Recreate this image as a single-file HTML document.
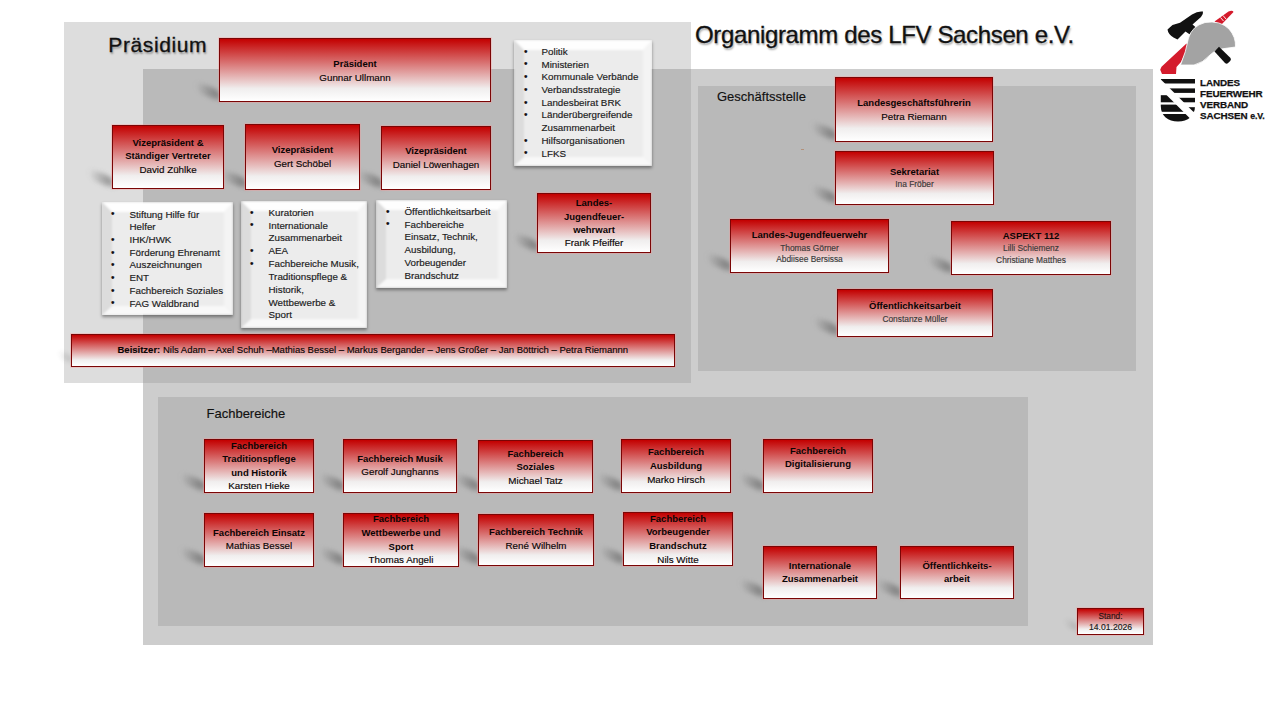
<!DOCTYPE html>
<html><head><meta charset="utf-8"><style>
*{margin:0;padding:0;box-sizing:border-box}
html,body{width:1280px;height:720px;overflow:hidden;background:#fff}
body{position:relative;font-family:"Liberation Sans",sans-serif;color:#1a1010}
.a{position:absolute}
.rb{position:absolute;border:1px solid #7a0505;background:linear-gradient(to bottom,#c30000 0%,#f0eeee 80%,#ffffff 100%);box-shadow:0 0 0 0.6px rgba(255,150,150,.55)}
.sh{position:absolute;background:linear-gradient(to right,rgba(50,50,50,0),rgba(50,50,50,.36) 70%,rgba(50,50,50,.42));filter:blur(2.8px);border-radius:40%;transform:skewY(20deg)}
.L{position:absolute;white-space:nowrap;text-align:center;line-height:1;color:#0a0505;-webkit-text-stroke:0.15px currentColor}
.B{-webkit-text-stroke:0}
.B{font-weight:700}
.g{color:#3a3a3a}
.wbs{position:absolute;box-shadow:0 2px 3px rgba(0,0,0,.4)}
.wb{position:absolute;background:#ececec;border-style:solid;border-width:10px 9px 9px 10px;border-color:#fefefe #f4f4f4 #f8f8f8 #dcdcdc;filter:blur(1.2px);clip-path:inset(0)}
.ttl{position:absolute;white-space:nowrap;text-shadow:1px 1.5px 2px rgba(0,0,0,.35);color:#111;line-height:1;-webkit-text-stroke:0.3px #111}
</style></head><body>
<div class="a" style="left:64px;top:22px;width:627px;height:361px;background:#dddddd"></div>
<div class="a" style="left:143px;top:69px;width:1010px;height:576px;background:#cdcdcd"></div>
<div class="a" style="left:143px;top:69px;width:548px;height:314px;background:#bababa"></div>
<div class="a" style="left:698px;top:86px;width:438px;height:285px;background:#b9b9b9"></div>
<div class="a" style="left:158px;top:397px;width:870px;height:229px;background:#b9b9b9"></div>
<div class="ttl" style="left:108.3px;top:34px;font-size:21px;letter-spacing:0.6px">Präsidium</div>
<div class="ttl" style="left:695px;top:22.5px;font-size:24px;letter-spacing:-0.35px">Organigramm des LFV Sachsen e.V.</div>
<div class="L" style="left:717.0px;top:89.75px;font-size:13px;text-align:left;color:#111;">Geschäftsstelle</div>
<div class="a" style="left:801px;top:148.5px;width:3px;height:1px;background:#b08060;opacity:.7"></div>
<div class="L" style="left:206.5px;top:406.70px;font-size:13px;text-align:left;color:#111;">Fachbereiche</div>
<div class="sh" style="left:196px;top:86px;width:25px;height:11px"></div>
<div class="sh" style="left:89px;top:173px;width:25px;height:11px"></div>
<div class="sh" style="left:222px;top:174px;width:25px;height:11px"></div>
<div class="sh" style="left:358px;top:174px;width:25px;height:11px"></div>
<div class="sh" style="left:514px;top:237px;width:25px;height:11px"></div>
<div class="sh" style="left:812px;top:126px;width:25px;height:11px"></div>
<div class="sh" style="left:812px;top:189px;width:25px;height:11px"></div>
<div class="sh" style="left:707px;top:257px;width:25px;height:11px"></div>
<div class="sh" style="left:928px;top:259px;width:25px;height:11px"></div>
<div class="sh" style="left:814px;top:321px;width:25px;height:11px"></div>
<div class="sh" style="left:181px;top:477px;width:25px;height:11px"></div>
<div class="sh" style="left:320px;top:477px;width:25px;height:11px"></div>
<div class="sh" style="left:455px;top:477px;width:25px;height:11px"></div>
<div class="sh" style="left:598px;top:477px;width:25px;height:11px"></div>
<div class="sh" style="left:740px;top:477px;width:25px;height:11px"></div>
<div class="sh" style="left:181px;top:551px;width:25px;height:11px"></div>
<div class="sh" style="left:320px;top:551px;width:25px;height:11px"></div>
<div class="sh" style="left:455px;top:550px;width:25px;height:11px"></div>
<div class="sh" style="left:600px;top:550px;width:25px;height:11px"></div>
<div class="sh" style="left:740px;top:583px;width:25px;height:11px"></div>
<div class="sh" style="left:877px;top:583px;width:25px;height:11px"></div>
<div class="sh" style="left:1065px;top:621px;width:13px;height:8px;opacity:.45"></div>
<div class="sh" style="left:59px;top:353px;width:13px;height:8px;opacity:.45"></div>
<div class="rb" style="left:219px;top:38px;width:272px;height:64px"></div>
<div class="L B" style="left:219.0px;top:58.96px;font-size:9.5px;width:272.0px;">Präsident</div>
<div class="L" style="left:219.0px;top:72.50px;font-size:9.8px;width:272.0px;">Gunnar Ullmann</div>
<div class="rb" style="left:112px;top:125px;width:112px;height:64px"></div>
<div class="L B" style="left:112.0px;top:137.56px;font-size:9.5px;width:112.0px;">Vizepräsident &amp;</div>
<div class="L B" style="left:112.0px;top:150.71px;font-size:9.5px;width:112.0px;">Ständiger Vertreter</div>
<div class="L" style="left:112.0px;top:165.00px;font-size:9.8px;width:112.0px;">David Zühlke</div>
<div class="rb" style="left:245px;top:124px;width:115px;height:66px"></div>
<div class="L B" style="left:245.0px;top:144.96px;font-size:9.5px;width:115.0px;">Vizepräsident</div>
<div class="L" style="left:245.0px;top:158.50px;font-size:9.8px;width:115.0px;">Gert Schöbel</div>
<div class="rb" style="left:381px;top:126px;width:110px;height:64px"></div>
<div class="L B" style="left:381.0px;top:145.96px;font-size:9.5px;width:110.0px;">Vizepräsident</div>
<div class="L" style="left:381.0px;top:159.50px;font-size:9.8px;width:110.0px;">Daniel Löwenhagen</div>
<div class="rb" style="left:537px;top:193px;width:114px;height:60px"></div>
<div class="L B" style="left:537.0px;top:197.96px;font-size:9.5px;width:114.0px;">Landes-</div>
<div class="L B" style="left:537.0px;top:211.66px;font-size:9.5px;width:114.0px;">Jugendfeuer-</div>
<div class="L B" style="left:537.0px;top:224.96px;font-size:9.5px;width:114.0px;">wehrwart</div>
<div class="L" style="left:537.0px;top:237.50px;font-size:9.8px;width:114.0px;">Frank Pfeiffer</div>
<div class="rb" style="left:835px;top:77px;width:158px;height:65px"></div>
<div class="L B" style="left:835.0px;top:98.21px;font-size:9.5px;width:158.0px;">Landesgeschäftsführerin</div>
<div class="L" style="left:835.0px;top:111.50px;font-size:9.8px;width:158.0px;">Petra Riemann</div>
<div class="rb" style="left:835px;top:151px;width:159px;height:54px"></div>
<div class="L B" style="left:835.0px;top:166.96px;font-size:9.5px;width:159.0px;">Sekretariat</div>
<div class="L" style="left:835.0px;top:180.34px;font-size:8.4px;width:159.0px;color:#3a3a3a;">Ina Fröber</div>
<div class="rb" style="left:730px;top:219px;width:159px;height:54px"></div>
<div class="L B" style="left:730.0px;top:230.46px;font-size:9.5px;width:159.0px;">Landes-Jugendfeuerwehr</div>
<div class="L" style="left:730.0px;top:244.09px;font-size:8.4px;width:159.0px;color:#3a3a3a;">Thomas Görner</div>
<div class="L" style="left:730.0px;top:255.49px;font-size:8.4px;width:159.0px;color:#3a3a3a;">Abdiisee Bersissa</div>
<div class="rb" style="left:951px;top:221px;width:160px;height:54px"></div>
<div class="L B" style="left:951.0px;top:231.46px;font-size:9.5px;width:160.0px;">ASPEKT 112</div>
<div class="L" style="left:951.0px;top:244.49px;font-size:8.4px;width:160.0px;color:#3a3a3a;">Lilli Schiemenz</div>
<div class="L" style="left:951.0px;top:256.49px;font-size:8.4px;width:160.0px;color:#3a3a3a;">Christiane Matthes</div>
<div class="rb" style="left:837px;top:289px;width:156px;height:48px"></div>
<div class="L B" style="left:837.0px;top:301.26px;font-size:9.5px;width:156.0px;">Öffentlichkeitsarbeit</div>
<div class="L" style="left:837.0px;top:315.29px;font-size:8.4px;width:156.0px;color:#3a3a3a;">Constanze Müller</div>
<div class="rb" style="left:204px;top:439px;width:110px;height:54px"></div>
<div class="L B" style="left:204.0px;top:440.56px;font-size:9.5px;width:110.0px;">Fachbereich</div>
<div class="L B" style="left:204.0px;top:453.76px;font-size:9.5px;width:110.0px;">Traditionspflege</div>
<div class="L B" style="left:204.0px;top:467.66px;font-size:9.5px;width:110.0px;">und Historik</div>
<div class="L" style="left:204.0px;top:480.70px;font-size:9.8px;width:110.0px;">Karsten Hieke</div>
<div class="rb" style="left:343px;top:439px;width:114px;height:54px"></div>
<div class="L B" style="left:343.0px;top:453.76px;font-size:9.5px;width:114.0px;">Fachbereich Musik</div>
<div class="L" style="left:343.0px;top:466.90px;font-size:9.8px;width:114.0px;">Gerolf Junghanns</div>
<div class="rb" style="left:478px;top:440px;width:115px;height:53px"></div>
<div class="L B" style="left:478.0px;top:448.76px;font-size:9.5px;width:115.0px;">Fachbereich</div>
<div class="L B" style="left:478.0px;top:462.46px;font-size:9.5px;width:115.0px;">Soziales</div>
<div class="L" style="left:478.0px;top:476.10px;font-size:9.8px;width:115.0px;">Michael Tatz</div>
<div class="rb" style="left:621px;top:439px;width:110px;height:54px"></div>
<div class="L B" style="left:621.0px;top:447.36px;font-size:9.5px;width:110.0px;">Fachbereich</div>
<div class="L B" style="left:621.0px;top:460.76px;font-size:9.5px;width:110.0px;">Ausbildung</div>
<div class="L" style="left:621.0px;top:474.70px;font-size:9.8px;width:110.0px;">Marko Hirsch</div>
<div class="rb" style="left:763px;top:439px;width:110px;height:54px"></div>
<div class="L B" style="left:763.0px;top:446.36px;font-size:9.5px;width:110.0px;">Fachbereich</div>
<div class="L B" style="left:763.0px;top:459.36px;font-size:9.5px;width:110.0px;">Digitalisierung</div>
<div class="rb" style="left:204px;top:513px;width:110px;height:54px"></div>
<div class="L B" style="left:204.0px;top:527.56px;font-size:9.5px;width:110.0px;">Fachbereich Einsatz</div>
<div class="L" style="left:204.0px;top:540.80px;font-size:9.8px;width:110.0px;">Mathias Bessel</div>
<div class="rb" style="left:343px;top:513px;width:116px;height:54px"></div>
<div class="L B" style="left:343.0px;top:514.46px;font-size:9.5px;width:116.0px;">Fachbereich</div>
<div class="L B" style="left:343.0px;top:527.56px;font-size:9.5px;width:116.0px;">Wettbewerbe und</div>
<div class="L B" style="left:343.0px;top:541.56px;font-size:9.5px;width:116.0px;">Sport</div>
<div class="L" style="left:343.0px;top:554.80px;font-size:9.8px;width:116.0px;">Thomas Angeli</div>
<div class="rb" style="left:478px;top:514px;width:116px;height:52px"></div>
<div class="L B" style="left:478.0px;top:527.16px;font-size:9.5px;width:116.0px;">Fachbereich Technik</div>
<div class="L" style="left:478.0px;top:540.70px;font-size:9.8px;width:116.0px;">René Wilhelm</div>
<div class="rb" style="left:623px;top:512px;width:110px;height:54px"></div>
<div class="L B" style="left:623.0px;top:514.36px;font-size:9.5px;width:110.0px;">Fachbereich</div>
<div class="L B" style="left:623.0px;top:527.46px;font-size:9.5px;width:110.0px;">Vorbeugender</div>
<div class="L B" style="left:623.0px;top:541.26px;font-size:9.5px;width:110.0px;">Brandschutz</div>
<div class="L" style="left:623.0px;top:555.20px;font-size:9.8px;width:110.0px;">Nils Witte</div>
<div class="rb" style="left:763px;top:546px;width:114px;height:53px"></div>
<div class="L B" style="left:763.0px;top:561.46px;font-size:9.5px;width:114.0px;">Internationale</div>
<div class="L B" style="left:763.0px;top:574.26px;font-size:9.5px;width:114.0px;">Zusammenarbeit</div>
<div class="rb" style="left:900px;top:546px;width:114px;height:53px"></div>
<div class="L B" style="left:900.0px;top:561.26px;font-size:9.5px;width:114.0px;">Öffentlichkeits-</div>
<div class="L B" style="left:900.0px;top:574.26px;font-size:9.5px;width:114.0px;">arbeit</div>
<div class="rb" style="left:1077px;top:608px;width:67px;height:27px"></div>
<div class="L" style="left:1077.0px;top:612.07px;font-size:8.3px;width:67.0px;color:#2a1010;">Stand:</div>
<div class="L" style="left:1077.0px;top:622.72px;font-size:8.6px;width:67.0px;color:#1a1a1a;">14.01.2026</div>
<div class="rb" style="left:71px;top:334px;width:604px;height:33px"></div>
<div class="L" style="left:117.5px;top:344.76px;font-size:9.5px;text-align:left;"><b>Beisitzer:</b> Nils Adam – Axel Schuh –Mathias Bessel – Markus Bergander – Jens Großer – Jan Böttrich – Petra Riemannn</div>
<div class="wbs" style="left:514px;top:40px;width:138px;height:126px"></div>
<div class="wb" style="left:514px;top:40px;width:138px;height:126px"></div>
<div class="L" style="left:524.0px;top:46.73px;font-size:10px;text-align:left;color:#111;">•</div>
<div class="L" style="left:541.5px;top:46.90px;font-size:9.8px;text-align:left;color:#1a1a1a;">Politik</div>
<div class="L" style="left:524.0px;top:59.43px;font-size:10px;text-align:left;color:#111;">•</div>
<div class="L" style="left:541.5px;top:59.60px;font-size:9.8px;text-align:left;color:#1a1a1a;">Ministerien</div>
<div class="L" style="left:524.0px;top:72.13px;font-size:10px;text-align:left;color:#111;">•</div>
<div class="L" style="left:541.5px;top:72.30px;font-size:9.8px;text-align:left;color:#1a1a1a;">Kommunale Verbände</div>
<div class="L" style="left:524.0px;top:84.83px;font-size:10px;text-align:left;color:#111;">•</div>
<div class="L" style="left:541.5px;top:85.00px;font-size:9.8px;text-align:left;color:#1a1a1a;">Verbandsstrategie</div>
<div class="L" style="left:524.0px;top:97.53px;font-size:10px;text-align:left;color:#111;">•</div>
<div class="L" style="left:541.5px;top:97.70px;font-size:9.8px;text-align:left;color:#1a1a1a;">Landesbeirat BRK</div>
<div class="L" style="left:524.0px;top:110.23px;font-size:10px;text-align:left;color:#111;">•</div>
<div class="L" style="left:541.5px;top:110.40px;font-size:9.8px;text-align:left;color:#1a1a1a;">Länderübergreifende</div>
<div class="L" style="left:541.5px;top:123.10px;font-size:9.8px;text-align:left;color:#1a1a1a;">Zusammenarbeit</div>
<div class="L" style="left:524.0px;top:135.63px;font-size:10px;text-align:left;color:#111;">•</div>
<div class="L" style="left:541.5px;top:135.80px;font-size:9.8px;text-align:left;color:#1a1a1a;">Hilfsorganisationen</div>
<div class="L" style="left:524.0px;top:148.33px;font-size:10px;text-align:left;color:#111;">•</div>
<div class="L" style="left:541.5px;top:148.50px;font-size:9.8px;text-align:left;color:#1a1a1a;">LFKS</div>
<div class="wbs" style="left:102px;top:202px;width:131px;height:113px"></div>
<div class="wb" style="left:102px;top:202px;width:131px;height:113px"></div>
<div class="L" style="left:111.0px;top:209.33px;font-size:10px;text-align:left;color:#111;">•</div>
<div class="L" style="left:129.5px;top:209.50px;font-size:9.8px;text-align:left;color:#1a1a1a;">Stiftung Hilfe für</div>
<div class="L" style="left:129.5px;top:222.23px;font-size:9.8px;text-align:left;color:#1a1a1a;">Helfer</div>
<div class="L" style="left:111.0px;top:234.79px;font-size:10px;text-align:left;color:#111;">•</div>
<div class="L" style="left:129.5px;top:234.96px;font-size:9.8px;text-align:left;color:#1a1a1a;">IHK/HWK</div>
<div class="L" style="left:111.0px;top:247.52px;font-size:10px;text-align:left;color:#111;">•</div>
<div class="L" style="left:129.5px;top:247.69px;font-size:9.8px;text-align:left;color:#1a1a1a;">Förderung Ehrenamt</div>
<div class="L" style="left:111.0px;top:260.26px;font-size:10px;text-align:left;color:#111;">•</div>
<div class="L" style="left:129.5px;top:260.42px;font-size:9.8px;text-align:left;color:#1a1a1a;">Auszeichnungen</div>
<div class="L" style="left:111.0px;top:272.99px;font-size:10px;text-align:left;color:#111;">•</div>
<div class="L" style="left:129.5px;top:273.15px;font-size:9.8px;text-align:left;color:#1a1a1a;">ENT</div>
<div class="L" style="left:111.0px;top:285.72px;font-size:10px;text-align:left;color:#111;">•</div>
<div class="L" style="left:129.5px;top:285.88px;font-size:9.8px;text-align:left;color:#1a1a1a;">Fachbereich Soziales</div>
<div class="L" style="left:111.0px;top:298.45px;font-size:10px;text-align:left;color:#111;">•</div>
<div class="L" style="left:129.5px;top:298.61px;font-size:9.8px;text-align:left;color:#1a1a1a;">FAG Waldbrand</div>
<div class="wbs" style="left:241px;top:201px;width:126px;height:127px"></div>
<div class="wb" style="left:241px;top:201px;width:126px;height:127px"></div>
<div class="L" style="left:250.0px;top:207.53px;font-size:10px;text-align:left;color:#111;">•</div>
<div class="L" style="left:268.5px;top:207.70px;font-size:9.8px;text-align:left;color:#1a1a1a;">Kuratorien</div>
<div class="L" style="left:250.0px;top:220.37px;font-size:10px;text-align:left;color:#111;">•</div>
<div class="L" style="left:268.5px;top:220.53px;font-size:9.8px;text-align:left;color:#1a1a1a;">Internationale</div>
<div class="L" style="left:268.5px;top:233.36px;font-size:9.8px;text-align:left;color:#1a1a1a;">Zusammenarbeit</div>
<div class="L" style="left:250.0px;top:246.03px;font-size:10px;text-align:left;color:#111;">•</div>
<div class="L" style="left:268.5px;top:246.19px;font-size:9.8px;text-align:left;color:#1a1a1a;">AEA</div>
<div class="L" style="left:250.0px;top:258.86px;font-size:10px;text-align:left;color:#111;">•</div>
<div class="L" style="left:268.5px;top:259.02px;font-size:9.8px;text-align:left;color:#1a1a1a;">Fachbereiche Musik,</div>
<div class="L" style="left:268.5px;top:271.85px;font-size:9.8px;text-align:left;color:#1a1a1a;">Traditionspflege &amp;</div>
<div class="L" style="left:268.5px;top:284.68px;font-size:9.8px;text-align:left;color:#1a1a1a;">Historik,</div>
<div class="L" style="left:268.5px;top:297.51px;font-size:9.8px;text-align:left;color:#1a1a1a;">Wettbewerbe &amp;</div>
<div class="L" style="left:268.5px;top:310.34px;font-size:9.8px;text-align:left;color:#1a1a1a;">Sport</div>
<div class="wbs" style="left:376px;top:200px;width:131px;height:88px"></div>
<div class="wb" style="left:376px;top:200px;width:131px;height:88px"></div>
<div class="L" style="left:386.0px;top:206.63px;font-size:10px;text-align:left;color:#111;">•</div>
<div class="L" style="left:404.5px;top:206.80px;font-size:9.8px;text-align:left;color:#1a1a1a;">Öffentlichkeitsarbeit</div>
<div class="L" style="left:386.0px;top:219.41px;font-size:10px;text-align:left;color:#111;">•</div>
<div class="L" style="left:404.5px;top:219.58px;font-size:9.8px;text-align:left;color:#1a1a1a;">Fachbereiche</div>
<div class="L" style="left:404.5px;top:232.36px;font-size:9.8px;text-align:left;color:#1a1a1a;">Einsatz, Technik,</div>
<div class="L" style="left:404.5px;top:245.14px;font-size:9.8px;text-align:left;color:#1a1a1a;">Ausbildung,</div>
<div class="L" style="left:404.5px;top:257.92px;font-size:9.8px;text-align:left;color:#1a1a1a;">Vorbeugender</div>
<div class="L" style="left:404.5px;top:270.70px;font-size:9.8px;text-align:left;color:#1a1a1a;">Brandschutz</div>
<svg class="a" style="left:1150px;top:0px" width="130" height="130" viewBox="1150 0 130 130">
<defs><clipPath id="shield"><path d="M1160.8,79 H1195 V106 C1195,116 1188,121.5 1178,121.5 C1168,121.5 1160.8,116 1160.8,106 Z"/></clipPath>
<clipPath id="upr"><path d="M1150,68.6 L1210,128.6 L1210,60 L1150,60 Z"/></clipPath>
<clipPath id="lwl"><path d="M1150,78.4 L1210,138.4 L1150,138.4 Z"/></clipPath></defs>
<!-- red lower wedge -->
<path fill="#d41b2c" d="M1160.2,69.8 L1161.5,66.8 L1186.5,43.5 L1188.5,46 L1181,62 L1176.5,67 L1176,74 L1162,74 Z"/>
<!-- red upper strip -->
<path fill="#d41b2c" d="M1214.5,21.5 L1228.5,11.5 Q1232.5,9.8 1233.5,12 L1221,25 Z"/>
<path stroke="#fff" stroke-width="0.9" d="M1220.5,17.5 L1223.5,21 M1223,15.5 L1226,19"/>
<!-- black hammer head -->
<path fill="#111" d="M1167.5,29.5 L1172.5,25 L1180,22.7 L1192,14.5 Q1198,10.8 1203,11.6 Q1203.5,14 1201,17 L1192.5,24.5 L1196,27.5 L1189.5,34.3 L1185.5,31.5 L1177.5,39.4 L1173.5,37.5 Q1168,34 1167.5,29.5 Z"/>
<!-- gray helmet -->
<path fill="#a3a3a3" stroke="#fff" stroke-width="0.8" d="M1180.5,65 Q1186,52 1188.5,38 Q1192,26 1205,22.5 Q1220,20 1229,29 Q1236,37 1235.5,47 L1226,48.3 Q1216,49 1210,55 Q1203,63 1194,65 Z"/>
<!-- black handle lower right -->
<path fill="#111" d="M1214.5,51.5 L1219,46.8 L1230.5,58 Q1231.5,59.5 1230.2,61 L1227.8,63.3 Q1226.5,64.2 1225,63 Z"/>
<!-- shield -->
<g clip-path="url(#shield)" fill="#111">
<g clip-path="url(#upr)">
<rect x="1160" y="79" width="36" height="4.5"/>
<rect x="1160" y="88.4" width="36" height="4.5"/>
<rect x="1160" y="97.8" width="36" height="4.5"/>
<rect x="1160" y="107.2" width="36" height="4.6"/>
<rect x="1160" y="116.6" width="36" height="5"/>
</g>
<g clip-path="url(#lwl)">
<rect x="1160" y="95.2" width="36" height="7.1"/>
<rect x="1160" y="104.6" width="36" height="7.2"/>
<rect x="1160" y="114" width="36" height="8"/>
</g>
</g>
<g font-family="Liberation Sans" font-weight="700" font-size="9.9" fill="#111" stroke="#111" stroke-width="0.25" letter-spacing="-0.1">
<text x="1200" y="85.9">LANDES</text>
<text x="1200" y="96.7">FEUERWEHR</text>
<text x="1200" y="107.8">VERBAND</text>
<text x="1200" y="119.3">SACHSEN <tspan font-size="8.8">e.V.</tspan></text>
</g>
</svg>

</body></html>
